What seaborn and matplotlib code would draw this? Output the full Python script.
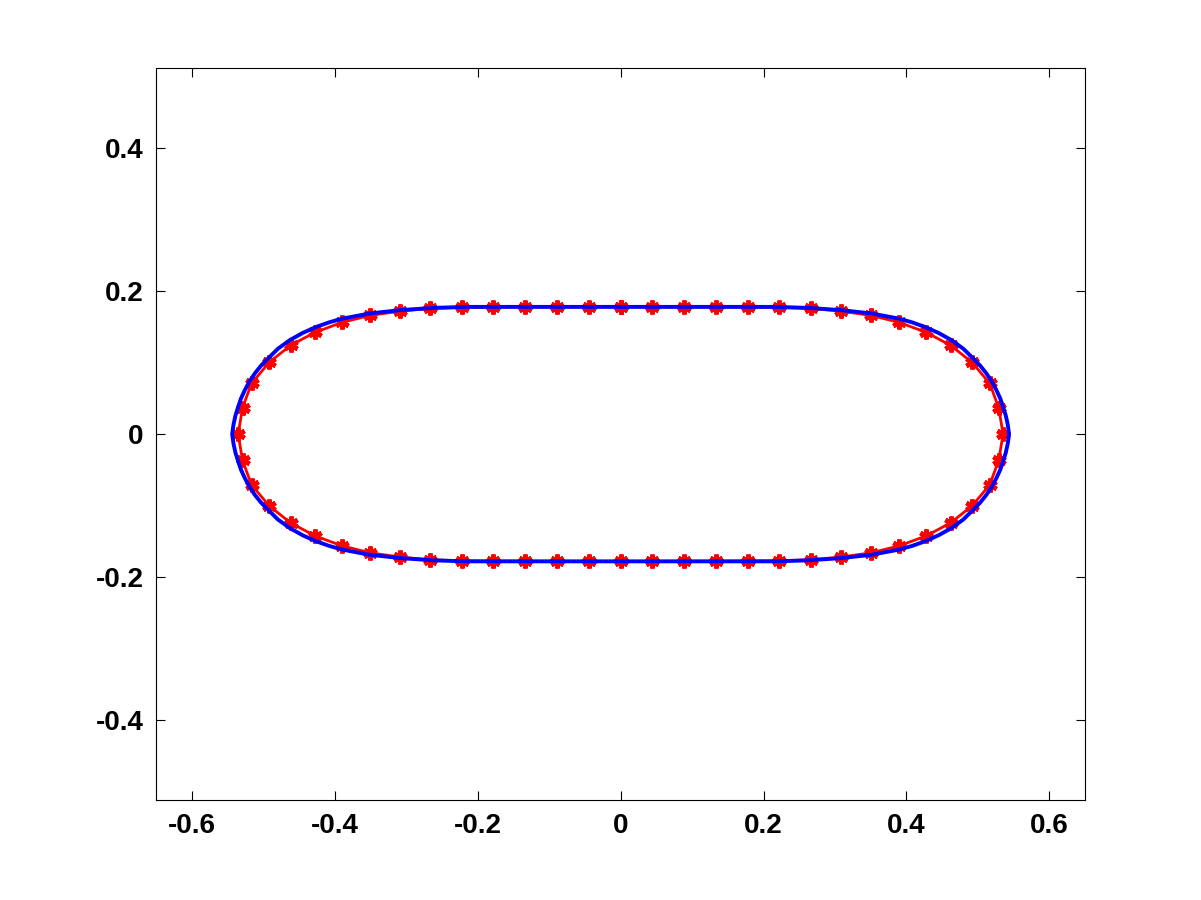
import numpy as np
import pandas as pd
import seaborn as sns
import matplotlib.pyplot as plt

# %%
# red sampled points, upper-left quarter (x from 0 out to the left tip)
red_x = [0.0, -0.0443, -0.0891, -0.1338, -0.1780, -0.2220, -0.2662, -0.3087,
         -0.3506, -0.3902, -0.4280, -0.4619, -0.4919, -0.5165, -0.5291, -0.5352]
red_y = [0.1780, 0.1780, 0.1779, 0.1778, 0.1776, 0.1772, 0.1758, 0.1720,
         0.1660, 0.1562, 0.1422, 0.1241, 0.1003, 0.0709, 0.0368, 0.0]

# blue curve, upper-left quarter
blue_x = [0.0, -0.1000, -0.2158, -0.2625, -0.3091, -0.3510, -0.3884, -0.4075,
          -0.4256, -0.4450, -0.4629, -0.4795, -0.4933, -0.5032, -0.5119,
          -0.5195, -0.5259, -0.5312, -0.5352, -0.5390, -0.5418, -0.5436]
blue_y = [0.1780, 0.1780, 0.1780, 0.1766, 0.1734, 0.1688, 0.1618, 0.1565,
          0.1501, 0.1415, 0.1315, 0.1195, 0.1059, 0.0958, 0.0849,
          0.0735, 0.0615, 0.0500, 0.0382, 0.0260, 0.0130, 0.0]

x_ticks = [-0.6, -0.4, -0.2, 0, 0.2, 0.4, 0.6]
x_labels = ["-0.6", "-0.4", "-0.2", "0", "0.2", "0.4", "0.6"]
y_ticks = [-0.4, -0.2, 0, 0.2, 0.4]
y_labels = ["-0.4", "-0.2", "0", "0.2", "0.4"]


def closed_loop(qx, qy):
    # mirror the quarter into a full closed curve
    qx, qy = np.array(qx), np.array(qy)
    x = np.concatenate([qx, qx[::-1][1:], -qx[1:], -qx[::-1][1:]])
    y = np.concatenate([qy, -qy[::-1][1:], -qy[1:], qy[::-1][1:]])
    return pd.DataFrame({"x": x, "y": y})


red_df = closed_loop(red_x, red_y)
blue_df = closed_loop(blue_x, blue_y)

# %%
sns.set_theme(style="white")
plt.rcParams["font.family"] = ["Liberation Sans", "DejaVu Sans"]
plt.rcParams["font.weight"] = "bold"

fig = plt.figure(figsize=(12.01, 9), dpi=100)
ax = fig.add_axes([0.13, 0.111, 0.7735, 0.8133])

sns.lineplot(data=red_df, x="x", y="y", sort=False, estimator=None, ax=ax,
             color="red", lw=2, marker=(6, 2, 0), markersize=10,
             markeredgewidth=3.2, markeredgecolor="red")
sns.lineplot(data=blue_df, x="x", y="y", sort=False, estimator=None, ax=ax,
             color="blue", lw=2.8)

ax.set_xlim(-0.65, 0.65)
ax.set_ylim(-0.512, 0.512)
ax.set_xticks(x_ticks)
ax.set_xticklabels(x_labels)
ax.set_yticks(y_ticks)
ax.set_yticklabels(y_labels)
ax.set_xlabel("")
ax.set_ylabel("")
ax.tick_params(direction="in", length=6.5, width=0.8, color="black",
               labelcolor="black", top=True, right=True, bottom=True,
               left=True, labelsize=20, pad=9)
for lab in ax.get_xticklabels() + ax.get_yticklabels():
    lab.set_fontweight("bold")
for s in ax.spines.values():
    s.set_color("black")
    s.set_linewidth(0.8)

fig.savefig("out.png", dpi=100, facecolor="white")
